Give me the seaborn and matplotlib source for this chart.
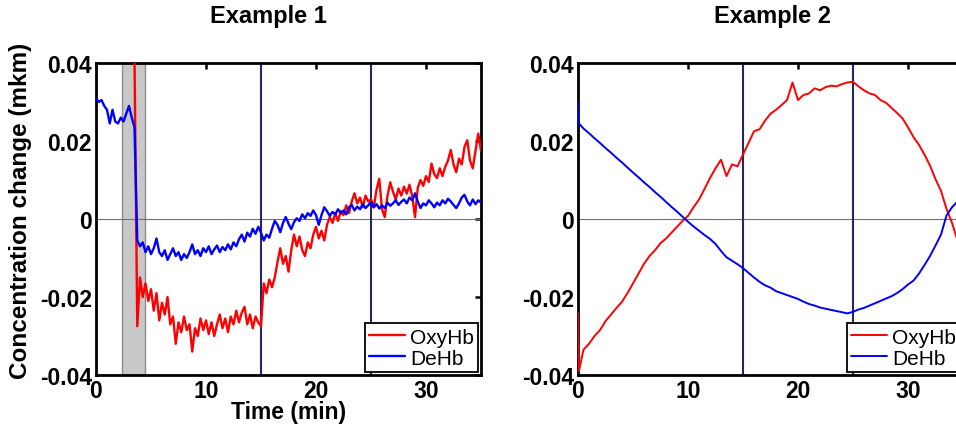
import numpy as np
import matplotlib
matplotlib.use("Agg")
import matplotlib.pyplot as plt
import seaborn as sns

# ---------------- data ----------------
EX1_STEP = 0.25          # sampling step (min), Example 1
EX1_OXY_START = 3.5      # OxyHb trace of Example 1 begins here (min)

ex1_dehb = [
    0.0310, 0.0300, 0.0305, 0.0290, 0.0280, 0.0245, 0.0280, 0.0250,
    0.0245, 0.0260, 0.0250, 0.0270, 0.0290, 0.0260, 0.0235, -0.0055,
    -0.0070, -0.0060, -0.0085, -0.0070, -0.0090, -0.0075, -0.0050, -0.0085,
    -0.0095, -0.0080, -0.0105, -0.0090, -0.0075, -0.0095, -0.0085, -0.0105,
    -0.0090, -0.0100, -0.0085, -0.0065, -0.0090, -0.0080, -0.0095, -0.0075,
    -0.0085, -0.0070, -0.0090, -0.0078, -0.0068, -0.0085, -0.0072, -0.0080,
    -0.0065, -0.0078, -0.0060, -0.0070, -0.0052, -0.0040, -0.0058, -0.0035,
    -0.0045, -0.0025, -0.0038, -0.0020, -0.0035, -0.0055, -0.0040, -0.0048,
    -0.0025, -0.0005, -0.0015, -0.0034, -0.0010, 0.0005, -0.0012, -0.0026,
    -0.0008, 0.0002, -0.0005, 0.0012, 0.0002, 0.0015, 0.0008, 0.0022,
    0.0010, -0.0015, 0.0010, 0.0030, 0.0020, 0.0008, 0.0018, 0.0012,
    0.0025, 0.0015, 0.0022, 0.0012, 0.0030, 0.0036, 0.0022, 0.0032,
    0.0025, 0.0038, 0.0028, 0.0035, 0.0044, 0.0030, 0.0038, 0.0027,
    0.0035, 0.0028, 0.0042, 0.0034, 0.0040, 0.0048, 0.0036, 0.0044,
    0.0050, 0.0040, 0.0055, 0.0048, 0.0066, 0.0045, 0.0028, 0.0040,
    0.0035, 0.0048, 0.0040, 0.0030, 0.0042, 0.0035, 0.0048, 0.0040,
    0.0052, 0.0045, 0.0036, 0.0028, 0.0040, 0.0055, 0.0062, 0.0045,
    0.0035, 0.0050, 0.0038, 0.0048, 0.0042,
]

ex1_oxy = [
    0.0410, -0.0275,
    -0.0150, -0.0200, -0.0165, -0.0210, -0.0180, -0.0235, -0.0190, -0.0260,
    -0.0215, -0.0245, -0.0200, -0.0270, -0.0250, -0.0320, -0.0265, -0.0290,
    -0.0250, -0.0285, -0.0270, -0.0340, -0.0280, -0.0300, -0.0255, -0.0285,
    -0.0260, -0.0295, -0.0265, -0.0300, -0.0270, -0.0245, -0.0280, -0.0255,
    -0.0290, -0.0250, -0.0270, -0.0235, -0.0265, -0.0240, -0.0225, -0.0270,
    -0.0245, -0.0280, -0.0250, -0.0265, -0.0275, -0.0165, -0.0190, -0.0155,
    -0.0175, -0.0150, -0.0110, -0.0075, -0.0115, -0.0095, -0.0135, -0.0080,
    -0.0040, -0.0070, -0.0045, -0.0080, -0.0095, -0.0060, -0.0075, -0.0040,
    -0.0020, -0.0050, -0.0030, -0.0055, -0.0015, 0.0005, -0.0010, 0.0015,
    -0.0005, 0.0020, 0.0010, 0.0035, 0.0015, 0.0045, 0.0066, 0.0040,
    0.0055, 0.0030, 0.0060, 0.0045, 0.0050, 0.0030, 0.0075, 0.0103,
    0.0025, 0.0005, 0.0060, 0.0094, 0.0070, 0.0050, 0.0078, 0.0060,
    0.0083, 0.0065, 0.0088, 0.0058, 0.0005, 0.0080, 0.0100, 0.0085,
    0.0110, 0.0095, 0.0142, 0.0115, 0.0105, 0.0130, 0.0110, 0.0134,
    0.0150, 0.0177, 0.0140, 0.0120, 0.0155, 0.0140, 0.0185, 0.0202,
    0.0150, 0.0130, 0.0175, 0.0219, 0.0175,
]

ex2_time = [0.0, 0.08] + [0.5 * k for k in range(1, 71)]

ex2_oxy = [
    -0.0240, -0.0390,
    -0.0335, -0.0320, -0.0300, -0.0285, -0.0262, -0.0245, -0.0228, -0.0212,
    -0.0190, -0.0165, -0.0140, -0.0115, -0.0095, -0.0080, -0.0062, -0.0050,
    -0.0035, -0.0020, -0.0005, 0.0008, 0.0030, 0.0050, 0.0077, 0.0105,
    0.0130, 0.0152, 0.0110, 0.0140, 0.0135, 0.0165, 0.0195, 0.0225,
    0.0230, 0.0252, 0.0270, 0.0280, 0.0292, 0.0305, 0.0350, 0.0305,
    0.0318, 0.0322, 0.0335, 0.0330, 0.0338, 0.0342, 0.0340, 0.0346,
    0.0350, 0.0352, 0.0340, 0.0330, 0.0322, 0.0318, 0.0305, 0.0298,
    0.0285, 0.0272, 0.0258, 0.0235, 0.0210, 0.0190, 0.0165, 0.0137,
    0.0102, 0.0072, 0.0026, -0.0010, -0.0055, -0.0085,
]

ex2_dehb = [
    0.0300, 0.0245,
    0.0232, 0.0220, 0.0207, 0.0195, 0.0182, 0.0170, 0.0157, 0.0145,
    0.0132, 0.0119, 0.0107, 0.0094, 0.0082, 0.0069, 0.0057, 0.0044,
    0.0031, 0.0019, 0.0006, -0.0007, -0.0019, -0.0030, -0.0041, -0.0051,
    -0.0064, -0.0082, -0.0098, -0.0107, -0.0116, -0.0126, -0.0138, -0.0150,
    -0.0161, -0.0170, -0.0176, -0.0185, -0.0190, -0.0195, -0.0200, -0.0205,
    -0.0212, -0.0218, -0.0222, -0.0227, -0.0230, -0.0233, -0.0236, -0.0239,
    -0.0242, -0.0238, -0.0232, -0.0228, -0.0222, -0.0216, -0.0210, -0.0204,
    -0.0198, -0.0190, -0.0180, -0.0168, -0.0158, -0.0140, -0.0118, -0.0095,
    -0.0068, -0.0040, 0.0009, 0.0030, 0.0045, 0.0060,
]

titles = ["Example 1", "Example 2"]
series_labels = ["OxyHb", "DeHb"]
marker_times = [15, 25]          # vertical reference lines (min)
shade_span = [2.4, 4.45]         # grey stimulus band in Example 1 (min)
xticks = [0, 10, 20, 30]
yticks = [-0.04, -0.02, 0, 0.02, 0.04]
ytick_labels = ["-0.04", "-0.02", "0", "0.02", "0.04"]

# ---------------- style ----------------
sns.set_style("white")
plt.rcParams["font.family"] = ["Liberation Sans", "DejaVu Sans"]
plt.rcParams["text.color"] = "black"
plt.rcParams["axes.labelcolor"] = "black"
plt.rcParams["xtick.color"] = "black"
plt.rcParams["ytick.color"] = "black"

W, H = 956, 431
fig = plt.figure(figsize=(W / 100, H / 100), dpi=100)

ax_w = 385 / W
ax_h = 312 / H
ax_b = (H - 376) / H
ax1 = fig.add_axes([96 / W, ax_b, ax_w, ax_h])
ax2 = fig.add_axes([578 / W, ax_b, ax_w, ax_h])

RED = "#ff0000"
BLUE = "#0000ff"
NAVY = "#262660"

t1_dehb = np.arange(len(ex1_dehb)) * EX1_STEP
t1_oxy = EX1_OXY_START + np.arange(len(ex1_oxy)) * EX1_STEP

# Example 1
ax1.axvspan(shade_span[0], shade_span[1], facecolor="#c8c8c8",
            edgecolor="#8c8c8c", lw=1.0, zorder=0.5)
sns.lineplot(x=t1_oxy, y=ex1_oxy, ax=ax1, color=RED, lw=1.7,
             label=series_labels[0], estimator=None, sort=False, zorder=3)
sns.lineplot(x=t1_dehb, y=ex1_dehb, ax=ax1, color=BLUE, lw=1.7,
             label=series_labels[1], estimator=None, sort=False, zorder=3)

# Example 2
sns.lineplot(x=ex2_time, y=ex2_oxy, ax=ax2, color=RED, lw=1.4,
             label=series_labels[0], estimator=None, sort=False, zorder=3)
sns.lineplot(x=ex2_time, y=ex2_dehb, ax=ax2, color=BLUE, lw=1.4,
             label=series_labels[1], estimator=None, sort=False, zorder=3)

for ax in (ax1, ax2):
    ax.axhline(0, color="#707070", lw=0.8, zorder=1)
    for mt in marker_times:
        ax.axvline(mt, color=NAVY, lw=1.5, zorder=2)
    ax.set_xlim(0, 35)
    ax.set_ylim(-0.04, 0.04)
    ax.set_xticks(xticks)
    ax.set_xticklabels([str(v) for v in xticks])
    ax.set_yticks(yticks)
    ax.set_yticklabels(ytick_labels)
    ax.tick_params(direction="in", length=4, width=1.8, top=True, right=True,
                   labelsize=16.5, pad=3, colors="black")
    for lbl in ax.get_xticklabels() + ax.get_yticklabels():
        lbl.set_fontweight("bold")
    for sp in ax.spines.values():
        sp.set_visible(True)
        sp.set_color("black")
        sp.set_linewidth(2.0)
    ax.set_xlabel("")
    ax.set_ylabel("")
    leg = ax.legend(loc="lower right", fontsize=15, frameon=True,
                    fancybox=False, framealpha=1, edgecolor="black",
                    borderpad=0.2, labelspacing=0.1, handlelength=1.7,
                    handletextpad=0.25, borderaxespad=0.15)
    leg.get_frame().set_linewidth(1.3)
    for txt in leg.get_texts():
        txt.set_color("black")
    ax.set_facecolor("white")

ax1.set_ylabel("Concentration change (mkm)", fontsize=17.5, fontweight="bold",
               color="black")
ax1.yaxis.set_label_coords(-0.165, 0.53)
ax1.set_xlabel("Time (min)", fontsize=16.5, fontweight="bold", color="black")
ax1.xaxis.set_label_coords(0.5, -0.08)

fig.text(268 / W, 1 - 5 / H, titles[0], ha="center", va="top",
         fontsize=17, fontweight="bold", color="black")
fig.text(772 / W, 1 - 5 / H, titles[1], ha="center", va="top",
         fontsize=17, fontweight="bold", color="black")

fig.savefig("out.png", dpi=100, facecolor="white")
